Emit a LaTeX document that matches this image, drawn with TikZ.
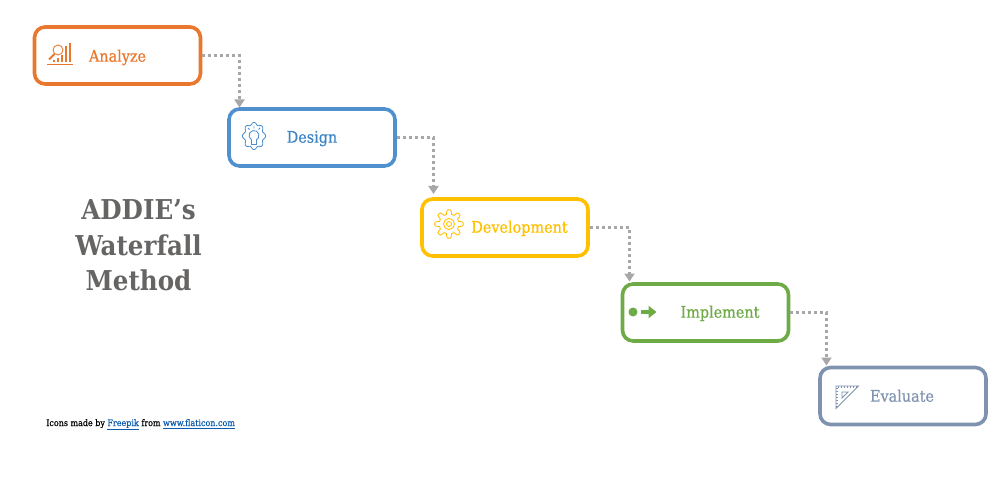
\documentclass[tikz,border=0pt]{standalone}
\usepackage{fontspec}
\setmainfont{DejaVu Serif Condensed}
\newfontfamily\stepfont[FakeBold=0.5]{DejaVu Serif Condensed}
\usetikzlibrary{arrows.meta}
\definecolor{analyzecol}{HTML}{E9772E}
\definecolor{designcol}{HTML}{5090CF}
\definecolor{designtext}{HTML}{3E85C6}
\definecolor{devcol}{HTML}{FFC000}
\definecolor{implcol}{HTML}{6EAA45}
\definecolor{evalcol}{HTML}{7F93AE}
\definecolor{conncol}{HTML}{A8A6A6}
\definecolor{titlecol}{HTML}{666564}
\definecolor{linkcol}{HTML}{0B5CAD}
\begin{document}
\begin{tikzpicture}[
    x=0.75pt, y=-0.75pt,
    stepbox/.style={draw, fill=white, rounded corners=8pt, line width=2.7pt,
                minimum width=124.5pt, minimum height=42.75pt},
    steplabel/.style={font=\stepfont\fontsize{12}{14}\selectfont, inner sep=0pt, anchor=base},
    conn/.style={draw=conncol, line width=2.25pt, dash pattern=on 2.25pt off 2.25pt,
                -{Triangle[length=6pt, width=7.5pt, fill=conncol, sep=0pt]}},
    icon/.style={line width=0.65pt},
    title/.style={font=\bfseries\fontsize{20.5}{26.6}\selectfont, text=titlecol, inner sep=0pt},
    credit/.style={font=\stepfont\fontsize{6.67}{8}\selectfont, inner sep=0pt, anchor=base west}
  ]
    \useasboundingbox (0,0) rectangle (1000,481);

    \node[stepbox, draw=analyzecol] (analyze) at (117.5,55.5) {};
    \node[stepbox, draw=designcol]  (design)  at (312,137.5)  {};
    \node[stepbox, draw=devcol]     (develop) at (505,227.5)  {};
    \node[stepbox, draw=implcol]    (implem)  at (705.5,312.5) {};
    \node[stepbox, draw=evalcol]    (evalu)   at (903,396)    {};

    \node[steplabel, text=analyzecol] (analyzetxt) at (117.5,61.7)  {Analyze};
    \node[steplabel, text=designtext] (designtxt)  at (312,142.7)   {Design};
    \node[steplabel, text=devcol]     (developtxt) at (519.5,232.7) {Development};
    \node[steplabel, text=implcol]    (implemtxt)  at (720,317.7)   {Implement};
    \node[steplabel, text=evalcol]    (evalutxt)   at (902,401.7)   {Evaluate};

    % arrow ends
    \coordinate (designin)  at (239.5,107.5);
    \coordinate (developin) at (433.5,194);
    \coordinate (implemin)  at (629.5,281.5);
    \coordinate (evaluin)   at (826.5,365.5);

    \draw[conn] (analyze.east) -| (designin);
    \draw[conn] (design.east)  -| (developin);
    \draw[conn] (develop.east) -| (implemin);
    \draw[conn] (implem.east)  -| (evaluin);

    % icons
    \begin{scope}[icon, draw=analyzecol]
      \draw (47,64) -- (73,64);
      \draw[line width=0.9pt] (70,43) -- (70,62) (66,46) -- (66,62) (62,55) -- (62,62) (58,58) -- (58,62) (54,60) -- (54,62);
      \draw[fill=white] (58,50) circle[radius=5];
      \draw[line width=1.4pt] (54.5,54) -- (49,59.5);
    \end{scope}
    \begin{scope}[icon, draw=designcol]
      \draw plot[smooth cycle, samples=72, domain=0:355]
        ({254+(10.5+1.2*cos(8*\x))*cos(\x)}, {136+(12.5+1.2*cos(8*\x))*sin(\x)});
      \draw (251.5,139.8) arc[start angle=120, end angle=420, radius=5] -- (256.5,144.5) -- (251.5,144.5) -- cycle;
      \draw (254,126.5) -- (254,128.5) (248,128) -- (249.5,129.5) (260,128) -- (258.5,129.5);
    \end{scope}
    \begin{scope}[icon, draw=devcol]
      \draw plot[smooth cycle, samples=96, domain=0:356]
        ({449+(12+2.2*tanh(3*cos(8*\x)))*cos(\x)}, {224+(12+2.2*tanh(3*cos(8*\x)))*sin(\x)});
      \draw (449,224) circle[radius=5.5] (449,224) circle[radius=2.5];
    \end{scope}
    \fill[implcol] (633,312) circle[radius=4.5];
    \draw[implcol, line width=3pt, -{Triangle[length=6pt, width=9pt, sep=0pt]}] (641,312) -- (656.5,312);
    \begin{scope}[icon, draw=evalcol]
      \draw (836,386) -- (858.5,386) -- (836,408.5) -- cycle;
      \draw (842,392) -- (848,392) -- (842,398) -- cycle;
      \foreach \t in {0,3,...,18} {
        \draw (838+\t,386) -- (838+\t,388);
        \draw (836,388+\t) -- (838,388+\t);
      }
    \end{scope}

    \node[title, align=center] (titletxt) at (138.5,245.5) {ADDIE’s\\Waterfall\\Method};
    \node[credit] (credittxt) at (46,426)
      {Icons made by \textcolor{linkcol}{\underline{Freepik}} from \textcolor{linkcol}{\underline{www.flaticon.com}}};
  \end{tikzpicture}
\end{document}
